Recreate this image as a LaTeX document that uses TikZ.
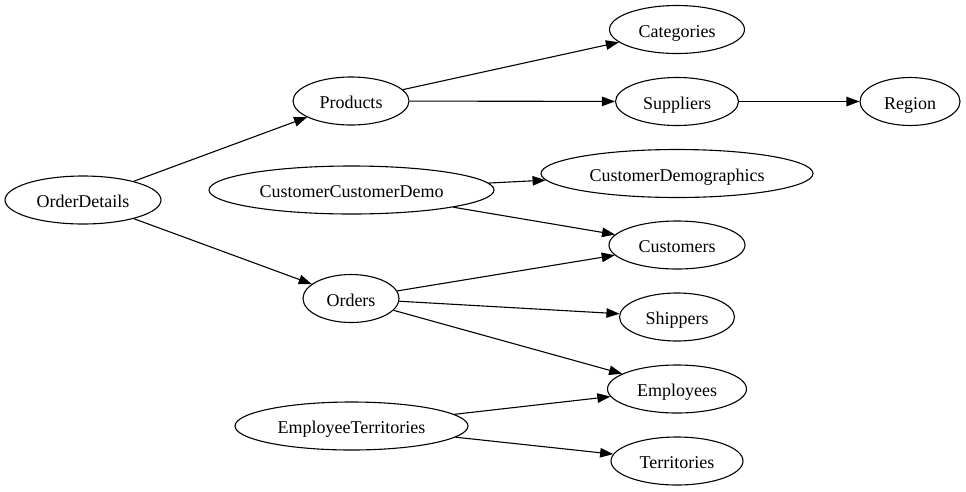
\documentclass[tikz,border=0pt]{standalone}
\usepackage{fontspec}
\setmainfont{Liberation Serif}
\usetikzlibrary{shapes.geometric,arrows.meta}
\begin{document}
\begin{tikzpicture}[x=1pt,y=-1pt,
  ent/.style={ellipse, draw, line width=1.1pt, inner sep=0pt, minimum height=48pt,
    font=\fontsize{18}{20}\selectfont, text height=16pt, text depth=1pt},
  rel/.style={-{Triangle[length=13pt,width=9.5pt]}, line width=1.1pt},
]
\useasboundingbox (0,0) rectangle (966,491);
\node[ent, minimum width=156pt] (od)   at (83,200)    {\makebox[0pt]{OrderDetails}};
\node[ent, minimum width=116pt] (prod) at (351,101)   {\makebox[0pt]{Products}};
\node[ent, minimum width=135pt] (cat)  at (677,29.5)  {\makebox[0pt]{Categories}};
\node[ent, minimum width=123pt] (sup)  at (677,101.5) {\makebox[0pt]{Suppliers}};
\node[ent, minimum width=100pt] (reg)  at (910,101.5) {\makebox[0pt]{Region}};
\node[ent, minimum width=285pt] (ccd)  at (351.5,190) {\makebox[0pt]{CustomerCustomerDemo}};
\node[ent, minimum width=272pt] (cdem) at (677,173.5) {\makebox[0pt]{CustomerDemographics}};
\node[ent, minimum width=136pt] (cus)  at (677,245)   {\makebox[0pt]{Customers}};
\node[ent, minimum width=96pt]  (ord)  at (351,298.5) {\makebox[0pt]{Orders}};
\node[ent, minimum width=115pt] (shp)  at (677,317)   {\makebox[0pt]{Shippers}};
\node[ent, minimum width=139pt] (emp)  at (677,389)   {\makebox[0pt]{Employees}};
\node[ent, minimum width=233pt] (et)   at (351.5,426) {\makebox[0pt]{EmployeeTerritories}};
\node[ent, minimum width=132pt] (ter)  at (677,461)   {\makebox[0pt]{Territories}};
\draw[rel] (od) -- (prod);
\draw[rel] (od) -- (ord);
\draw[rel] (prod) -- (cat);
\draw[rel] (prod) -- (sup);
\draw[rel] (sup) -- (reg);
\draw[rel] (ccd) -- (cdem);
\draw[rel] (ccd) -- (cus);
\draw[rel] (ord) -- (cus);
\draw[rel] (ord) -- (shp);
\draw[rel] (ord) -- (emp);
\draw[rel] (et) -- (emp);
\draw[rel] (et) -- (ter);
\end{tikzpicture}
\end{document}
